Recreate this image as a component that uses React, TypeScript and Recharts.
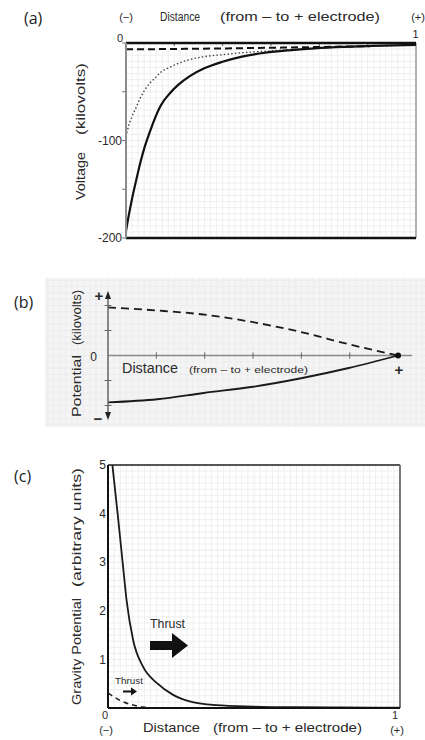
import React from 'react';
import { LineChart, Line, XAxis, YAxis, ReferenceLine, ReferenceDot } from 'recharts';

const FONT = '"Liberation Sans", Arial, Helvetica, sans-serif';
const INK = '#2a2a2a';
const GRID = '#ebebeb';

// ---------- Panel (a): voltage vs distance ----------
const aX = [0, 0.01, 0.02, 0.035, 0.05, 0.065, 0.08, 0.1, 0.12, 0.15, 0.18, 0.22, 0.27, 0.33, 0.4, 0.48, 0.56, 0.65, 0.75, 0.85, 1.0];
const aSolid = [-193, -176, -161, -141, -122, -106, -93, -77, -64, -52, -43, -34, -26, -19.5, -14, -10, -7.5, -5.5, -4, -3, -2];
const aDotted = [-96, -84, -76, -66, -56, -48, -42, -36, -30, -25, -21, -17, -14, -12, -10, -8.5, -7, -5.5, -4, -3, -2];
const aDashX = [0, 0.1, 0.2, 0.3, 0.4, 0.5, 0.6, 0.7, 0.84];
const aDashed = [-6.5, -6.3, -6, -5.7, -5.3, -4.9, -4.4, -3.9, -3.2];
const aTicksX = [0, 1 / 6, 2 / 6, 3 / 6, 4 / 6, 5 / 6, 1];
const aTicksY = [-200, -150, -100, -50, 0];
const aLabeledY = [-200, -100];

// ---------- Panel (b): potential ----------
const bDashX = [0, 0.17, 0.32, 0.48, 0.67, 0.83, 1.0];
const bDashed = [0.77, 0.72, 0.66, 0.55, 0.37, 0.18, 0];
const bSolidX = [0, 0.17, 0.33, 0.5, 0.67, 0.83, 1.0];
const bSolid = [-0.75, -0.7, -0.6, -0.5, -0.36, -0.2, 0];
const bTicksX = [1 / 6, 2 / 6, 3 / 6, 4 / 6, 5 / 6];
const bTicksY = [-1, 0, 1];
const bMinorY = [-0.8, -0.4, 0.4, 0.8];
const bTickLabels: Record<string, string> = { '1': '+', '0': '0', '-1': '\u2212' };

// ---------- Panel (c): gravity potential ----------
const cSolidX = [0.015, 0.033, 0.05, 0.064, 0.086, 0.12, 0.168, 0.223, 0.29, 0.37, 0.5, 0.65, 0.8, 1.0];
const cSolid = [5, 4, 3, 2.2, 1.4, 0.85, 0.51, 0.27, 0.12, 0.06, 0.03, 0.015, 0.01, 0.005];
const cDashX = [0, 0.04, 0.086, 0.12, 0.15];
const cDashed = [0.31, 0.16, 0.06, 0.02, 0.005];
const cTicksX = [0, 1];
const cTicksY = [1, 2, 3, 4, 5];

const pts = (xs: number[], ys: number[]) => xs.map((x, i) => ({ x, y: ys[i] }));
const range = (from: number, to: number, step: number) => {
  const out: number[] = [];
  for (let v = from; v <= to + 1e-9; v += step) out.push(+v.toFixed(6));
  return out;
};

const aGridX = range(1 / 48, 47 / 48, 1 / 48);
const aGridY = range(-193.75, -6.25, 6.25);
const bGridX = range(-10 / 48, 52 / 48, 1 / 48);
const bGridY = range(-1.1, 1.2, 0.1);
const cGridX = range(1 / 48, 47 / 48, 1 / 48);
const cGridY = range(0.125, 4.875, 0.125);

const TopTickA = (p: any) => {
  const { x, y, payload } = p;
  const v = payload.value;
  if (v === 0)
    return (
      <g fontFamily={FONT} fill={INK}>
        <text x={x - 6} y={y + 0.5} fontSize={11} textAnchor="middle" dominantBaseline="central">0</text>
        <text x={x} y={y - 20} fontSize={11} textAnchor="middle" dominantBaseline="central">(−)</text>
      </g>
    );
  if (v === 1)
    return (
      <g fontFamily={FONT} fill={INK}>
        <text x={x - 0.5} y={y - 3} fontSize={11} textAnchor="middle" dominantBaseline="central">1</text>
        <text x={x + 2} y={y - 20} fontSize={11} textAnchor="middle" dominantBaseline="central">(+)</text>
      </g>
    );
  return <g />;
};

const LeftTickB = (p: any) => {
  const { x, y, payload } = p;
  const v = payload.value;
  const lab = bTickLabels[String(v)];
  if (!lab) return <g />;
  const dx = v === 0 ? -14.5 : v === 1 ? -9 : -10;
  const dy = v === 0 ? 1 : v === 1 ? 2 : 0;
  const fs = v === 0 ? 12 : 15;
  return (
    <text x={x + dx} y={y + dy} fontSize={fs} fontWeight={v === 0 ? 400 : 700} fontFamily={FONT} fill={INK} textAnchor="middle" dominantBaseline="central">
      {lab}
    </text>
  );
};

const BottomTickC = (p: any) => {
  const { x, y, payload } = p;
  const v = payload.value;
  if (v === 0)
    return (
      <g fontFamily={FONT} fill={INK}>
        <text x={x - 3} y={y + 7} fontSize={11} textAnchor="middle" dominantBaseline="central">0</text>
        <text x={x - 2} y={y + 22} fontSize={11} textAnchor="middle" dominantBaseline="central">(−)</text>
      </g>
    );
  if (v === 1)
    return (
      <g fontFamily={FONT} fill={INK}>
        <text x={x - 5} y={y + 7} fontSize={11} textAnchor="middle" dominantBaseline="central">1</text>
        <text x={x - 3} y={y + 22} fontSize={11} textAnchor="middle" dominantBaseline="central">(+)</text>
      </g>
    );
  return <g />;
};

const ArrowUp = (p: any) => (
  <path d={`M${p.cx - 3},${p.cy + 6} L${p.cx},${p.cy - 2} L${p.cx + 3},${p.cy + 6} Z`} fill="#222" />
);
const ArrowDown = (p: any) => (
  <path d={`M${p.cx - 3},${p.cy - 6} L${p.cx},${p.cy + 2} L${p.cx + 3},${p.cy - 6} Z`} fill="#222" />
);

const T = ({ x, y, len, size, rotate, children, weight }: any) => (
  <text
    x={x}
    y={y}
    fontSize={size}
    fontFamily={FONT}
    fill={INK}
    fontWeight={weight || 400}
    textAnchor="middle"
    dominantBaseline="central"
    textLength={len}
    lengthAdjust="spacingAndGlyphs"
    transform={rotate ? `rotate(-90 ${x} ${y})` : undefined}
  >
    {children}
  </text>
);

function ChartA() {
  return (
    <LineChart width={425} height={250} margin={{ top: 23, right: 9, bottom: 12, left: 86 }}>
      <XAxis
        type="number"
        dataKey="x"
        orientation="top"
        domain={[0, 1]}
        ticks={aTicksX}
        interval={0}
        height={20}
        axisLine={{ stroke: '#111', strokeWidth: 2.5 }}
        tickLine={false}
        tickSize={0}
        tickMargin={6}
        tick={(p: any) => <TopTickA {...p} />}
        allowDataOverflow
      />
      <YAxis
        type="number"
        domain={[-200, 0]}
        ticks={aTicksY}
        interval={0}
        width={40}
        axisLine={{ stroke: '#8c8c8c', strokeWidth: 2 }}
        tickLine={{ stroke: '#777' }}
        tickSize={4}
        tickMargin={0}
        tickFormatter={(v: number) => (aLabeledY.includes(v) ? String(v) : '')}
        tick={{ fontSize: 12, fill: INK, fontFamily: FONT }}
        allowDataOverflow
      />
      {aGridX.map((v, i) => (
        <ReferenceLine key={'ax' + i} x={v} stroke={GRID} strokeWidth={0.8} />
      ))}
      {aGridY.map((v, i) => (
        <ReferenceLine key={'ay' + i} y={v} stroke={GRID} strokeWidth={0.8} />
      ))}
      <ReferenceLine x={1} stroke="#999" strokeWidth={1.5} />
      <ReferenceLine y={-200} stroke="#111" strokeWidth={2.5} />
      {aTicksX.slice(1, -1).map((v, i) => (
        <ReferenceLine key={'at' + i} segment={[{ x: v, y: 0 }, { x: v, y: -3 }]} stroke="#666" strokeWidth={1} />
      ))}
      <Line data={pts(aX, aDotted)} dataKey="y" type="monotone" stroke="#444" strokeWidth={1.4} strokeDasharray="1.5 2.2" dot={false} isAnimationActive={false} />
      <Line data={pts(aDashX, aDashed)} dataKey="y" type="monotone" stroke="#111" strokeWidth={2} strokeDasharray="7 4" dot={false} isAnimationActive={false} />
      <Line data={pts(aX, aSolid)} dataKey="y" type="monotone" stroke="#111" strokeWidth={2.2} dot={false} isAnimationActive={false} />
    </LineChart>
  );
}

function ChartB() {
  return (
    <LineChart width={425} height={170} margin={{ top: 23, right: 13, bottom: 22, left: 78 }}>
      <XAxis type="number" dataKey="x" domain={[0, 1.048]} hide height={0} allowDataOverflow />
      <YAxis
        type="number"
        domain={[-1, 1]}
        ticks={bTicksY}
        interval={0}
        width={30}
        axisLine={{ stroke: '#666', strokeWidth: 1.5 }}
        tickLine={false}
        tickSize={0}
        tickMargin={0}
        tick={(p: any) => <LeftTickB {...p} />}
        allowDataOverflow
      />
      {bGridX.map((v, i) => (
        <ReferenceLine key={'bx' + i} segment={[{ x: v, y: -1.136 }, { x: v, y: 1.248 }]} ifOverflow="visible" stroke={GRID} strokeWidth={0.8} />
      ))}
      {bGridY.map((v, i) => (
        <ReferenceLine key={'by' + i} segment={[{ x: -0.217, y: v }, { x: 1.093, y: v }]} ifOverflow="visible" stroke={GRID} strokeWidth={0.8} />
      ))}
      <ReferenceLine y={0} stroke="#888" strokeWidth={1.5} />
      {bTicksX.map((v, i) => (
        <ReferenceLine key={'bt' + i} segment={[{ x: v, y: -0.05 }, { x: v, y: 0.05 }]} stroke="#666" strokeWidth={1} />
      ))}
      {bMinorY.map((v, i) => (
        <ReferenceLine key={'bm' + i} segment={[{ x: -0.012, y: v }, { x: 0.012, y: v }]} ifOverflow="visible" stroke="#666" strokeWidth={1} />
      ))}
      <ReferenceDot x={0} y={1} r={3} ifOverflow="visible" shape={(p: any) => <ArrowUp {...p} />} />
      <ReferenceDot x={0} y={-1} r={3} ifOverflow="visible" shape={(p: any) => <ArrowDown {...p} />} />
      <Line data={pts(bDashX, bDashed)} dataKey="y" type="monotone" stroke="#1a1a1a" strokeWidth={1.8} strokeDasharray="8 5" dot={false} isAnimationActive={false} />
      <Line data={pts(bSolidX, bSolid)} dataKey="y" type="monotone" stroke="#1a1a1a" strokeWidth={1.8} dot={false} isAnimationActive={false} />
      <ReferenceDot x={1} y={0} r={3} fill="#111" stroke="none" />
    </LineChart>
  );
}

function ChartC() {
  return (
    <LineChart width={425} height={290} margin={{ top: 15, right: 25, bottom: 12, left: 78 }}>
      <XAxis
        type="number"
        dataKey="x"
        domain={[0, 1]}
        ticks={cTicksX}
        interval={0}
        height={20}
        axisLine={{ stroke: '#111', strokeWidth: 2 }}
        tickLine={false}
        tickSize={0}
        tickMargin={0}
        tick={(p: any) => <BottomTickC {...p} />}
        allowDataOverflow
      />
      <YAxis
        type="number"
        domain={[0, 5]}
        ticks={cTicksY}
        interval={0}
        width={30}
        axisLine={{ stroke: '#111', strokeWidth: 2 }}
        tickLine={false}
        tickSize={0}
        tickMargin={2}
        tick={{ fontSize: 12, fill: INK, fontFamily: FONT }}
        allowDataOverflow
      />
      {cGridX.map((v, i) => (
        <ReferenceLine key={'cx' + i} x={v} stroke={GRID} strokeWidth={0.8} />
      ))}
      {cGridY.map((v, i) => (
        <ReferenceLine key={'cy' + i} y={v} stroke={GRID} strokeWidth={0.8} />
      ))}
      <ReferenceLine y={5} stroke="#555" strokeWidth={2} />
      <ReferenceLine x={1} stroke="#777" strokeWidth={2} />
      <Line data={pts(cDashX, cDashed)} dataKey="y" type="monotone" stroke="#222" strokeWidth={1.5} strokeDasharray="5 4" dot={false} isAnimationActive={false} />
      <Line data={pts(cSolidX, cSolid)} dataKey="y" type="monotone" stroke="#1a1a1a" strokeWidth={1.8} dot={false} isAnimationActive={false} />
    </LineChart>
  );
}

export default function App() {
  return (
    <div style={{ position: 'absolute', left: 0, top: 0, width: 425, height: 740, background: '#fff', fontFamily: FONT, overflow: 'hidden' }}>
      <div style={{ position: 'absolute', left: 45, top: 278, width: 380, height: 149, background: '#f4f4f4' }} />
      <div style={{ position: 'absolute', left: 0, top: 0 }}>
        <ChartA />
      </div>
      <div style={{ position: 'absolute', left: 0, top: 270 }}>
        <ChartB />
      </div>
      <div style={{ position: 'absolute', left: 0, top: 450 }}>
        <ChartC />
      </div>
      <svg style={{ position: 'absolute', left: 0, top: 0, pointerEvents: 'none' }} width={425} height={740}>
        {/* panel letters */}
        <text x={24} y={24} fontSize={16} fontFamily='"Open Sans", "Noto Sans", sans-serif' fill="#222">(a)</text>
        <text x={14} y={308} fontSize={16} fontFamily='"Open Sans", "Noto Sans", sans-serif' fill="#222">(b)</text>
        <text x={14} y={482} fontSize={16} fontFamily='"Open Sans", "Noto Sans", sans-serif' fill="#222">(c)</text>

        {/* panel (a) titles */}
        <T x={180} y={17} len={40} size={12}>Distance</T>
        <T x={300} y={17} len={160} size={12}>(from – to + electrode)</T>
        <T x={80} y={176} len={48} size={13} rotate>Voltage</T>
        <T x={80} y={99} len={72} size={13} rotate>(kilovolts)</T>

        {/* panel (b) titles */}
        <T x={150} y={368} len={56} size={14}>Distance</T>
        <T x={248.5} y={369} len={119} size={9.5}>(from – to + electrode)</T>
        <T x={399} y={369} size={15} weight={700}>+</T>
        <T x={77} y={386} len={62} size={12.5} rotate>Potential</T>
        <T x={77} y={317.5} len={55} size={12.5} rotate>(kilovolts)</T>

        {/* panel (c) titles */}
        <T x={171.5} y={727} len={57} size={13}>Distance</T>
        <T x={287.5} y={727} len={149} size={13}>(from – to + electrode)</T>
        <T x={76} y={651.5} len={107} size={13} rotate>Gravity Potential</T>
        <T x={76} y={527.5} len={119} size={13} rotate>(arbitrary units)</T>

        {/* thrust annotations */}
        <T x={167.5} y={624} len={35} size={12}>Thrust</T>
        <polygon points="150,641 172,641 172,633 188,645.5 172,658 172,650 150,650" fill="#111" />
        <T x={129} y={680} len={28} size={9.5}>Thrust</T>
        <polygon points="123,690.5 131,690.5 131,687.5 137,691.5 131,695.5 131,692.5 123,692.5" fill="#111" />
      </svg>
    </div>
  );
}
